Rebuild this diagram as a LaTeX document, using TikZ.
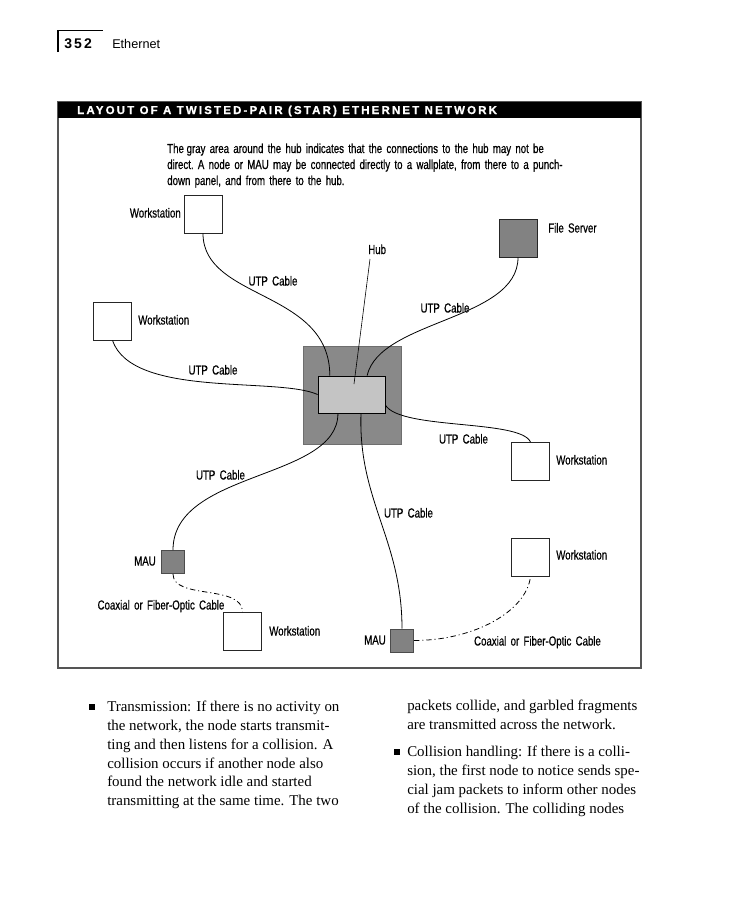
\documentclass[tikz,border=0pt]{standalone}
\usepackage{fontspec}
\setmainfont{Liberation Serif}
\newfontfamily\cond[FakeStretch=0.74,FakeBold=0.6]{Liberation Sans}
\newfontfamily\hdfont{Liberation Sans}
\newfontfamily\titlefont[LetterSpace=19,FakeBold=0.8]{Liberation Sans}
\usetikzlibrary{calc}
\definecolor{areagray}{HTML}{898989}
\definecolor{hubgray}{HTML}{C4C4C4}
\definecolor{srvgray}{HTML}{828282}
\definecolor{framegray}{HTML}{555555}
\newcommand{\gapw}{\ \hspace{1.2pt}}
\begin{document}
\begin{tikzpicture}[x=0.75pt,y=-0.75pt,
  lbl/.style={font=\cond\fontsize{9.8}{11}\selectfont, inner sep=0, anchor=base west},
  lblc/.style={lbl, anchor=base},
  lble/.style={lbl, anchor=base east},
  body/.style={font=\fontsize{11.2}{14}\selectfont, inner sep=0, anchor=base west},
  wsbox/.style={draw=black!85, fill=white, line width=0.65pt, minimum width=28.5pt, minimum height=28.5pt, inner sep=0},
  srvbox/.style={wsbox, fill=srvgray},
  maubox/.style={draw=black!70, fill=srvgray, line width=0.5pt, minimum size=17.5pt, inner sep=0},
  cable/.style={line width=0.6pt},
  coax/.style={line width=0.6pt, dash pattern=on 4pt off 2.2pt on 0.8pt off 2.2pt},
  bulletsq/.style={fill=black, minimum size=4pt, inner sep=0}
]
\useasboundingbox (0,0) rectangle (749,900);
% page header
\draw[line width=1pt] (58,52) -- (58,30.5) -- (103,30.5);
\node[font=\hdfont\bfseries\fontsize{10.5}{12}\selectfont, inner sep=0, anchor=base west] (pgnum) at (64,48) {3\kern1.6pt5\kern1.6pt2};
\node[font=\hdfont\fontsize{9.5}{12}\selectfont, inner sep=0, anchor=base west] (chap) at (112,48) {Ethernet};

% frame and title bar
\draw[framegray, line width=0.8pt] (58,102) rectangle (641,668);
\fill[black] (58,102) rectangle (641,118);
\node[font=\titlefont\bfseries\fontsize{8.6}{10}\selectfont, text=white, inner sep=0, anchor=base west] (title) at (77,114) {LAYOUT OF A TWISTED-PAIR (STAR) ETHERNET NETWORK};

% caption
\node[lbl] (cap1) at (167,153) {The gray\gapw area\gapw around\gapw the\gapw hub\gapw indicates\gapw that\gapw the\gapw connections\gapw to\gapw the\gapw hub\gapw may\gapw not\gapw be};
\node[lbl] (cap2) at (167,169) {direct.\gapw A\gapw node\gapw or\gapw MAU\gapw may\gapw be\gapw connected\gapw directly\gapw to\gapw a\gapw wallplate,\gapw from\gapw there\gapw to\gapw a\gapw punch-};
\node[lbl] (cap3) at (167,185) {down\gapw panel,\gapw and\gapw from\gapw there\gapw to\gapw the\gapw hub.};

% hub area
\node[fill=areagray, draw=areagray!80!black, line width=0.4pt, minimum size=73.5pt, inner sep=0] (area) at (352,395) {};
\node[fill=hubgray, draw=black, line width=0.6pt, minimum width=50.25pt, minimum height=27.75pt, inner sep=0] (hub) at (351.5,394.5) {};

% devices
\node[wsbox] (ws1) at (203,214) {};
\node[wsbox] (ws2) at (112.5,321) {};
\node[srvbox] (fs) at (518,238) {};
\node[wsbox] (ws3) at (530.5,461.5) {};
\node[wsbox] (ws4) at (530.5,557) {};
\node[wsbox] (ws5) at (242.5,631.5) {};
\node[maubox] (mau1) at (173,562) {};
\node[maubox] (mau2) at (402,640.5) {};

% labels
\node[lble] (lws1) at (181,217.5) {Workstation};
\node[lbl] (lws2) at (138,324.5) {Workstation};
\node[lbl] (lfs) at (548,232.5) {File\gapw Server};
\node[lbl] (lhub) at (368,254) {Hub};
\node[lbl] (lws3) at (556,464.5) {Workstation};
\node[lbl] (lws4) at (556,559.5) {Workstation};
\node[lbl] (lws5) at (269,635.5) {Workstation};
\node[lble] (lmau1) at (156,565.5) {MAU};
\node[lble] (lmau2) at (386,644.5) {MAU};
\node[lblc] (lcoax1) at (161,609.5) {Coaxial\gapw or\gapw Fiber-Optic\gapw Cable};
\node[lblc] (lcoax2) at (537.5,645.5) {Coaxial\gapw or\gapw Fiber-Optic\gapw Cable};
\node[lblc] (u1) at (273,285.5) {UTP\gapw Cable};
\node[lblc] (u2) at (445,312.5) {UTP\gapw Cable};
\node[lblc] (u3) at (213,374.5) {UTP\gapw Cable};
\node[lblc] (u4) at (463.5,443.5) {UTP\gapw Cable};
\node[lblc] (u5) at (220.5,479.5) {UTP\gapw Cable};
\node[lblc] (u6) at (408.5,517.5) {UTP\gapw Cable};

% cables
\coordinate (ht1) at ($(hub.north west)!0.18!(hub.north east)$);
\coordinate (ht2) at ($(hub.north west)!0.73!(hub.north east)$);
\coordinate (hb1) at ($(hub.south west)!0.30!(hub.south east)$);
\coordinate (hb2) at ($(hub.south west)!0.64!(hub.south east)$);
\coordinate (hr) at ($(hub.north east)!0.78!(hub.south east)$);
\coordinate (hdot) at ($(hub.center)+(2.5,-10.5)$);
\coordinate (hubtip) at (370,259);
\draw[cable] (ws1.south) .. controls +(0,67) and +(0,-86) .. (ht1);
\draw[cable] (ws2.south) .. controls +(20,58) and +(-40,-18) .. (hub.west);
\draw[cable] (fs.south) .. controls +(0,63) and +(13,-56) .. (ht2);
\draw[cable] (hr) .. controls +(15,25) and +(-10,-23) .. (ws3.north);
\draw[cable] (hb1) .. controls +(0,67) and +(0,-80) .. (mau1.north);
\draw[cable] (hb2) .. controls +(-3,87) and +(0,-89) .. (mau2.north);
\draw[line width=0.45pt] (hubtip) -- (hdot);
\draw[coax] (mau1.south) .. controls +(0,26) and +(0,-28) .. (ws5.north);
\draw[coax] (mau2.east) .. controls +(60,0) and +(-4,35) .. (ws4.south);

% body text
\node[bulletsq] (b1) at (92,707) {};
\node[body] (t1) at (107,711) {Transmission: If there is no activity on};
\node[body] (t2) at (107,730) {the network, the node starts transmit-};
\node[body] (t3) at (107,749) {ting and then listens for a collision. A};
\node[body] (t4) at (107,768) {collision occurs if another node also};
\node[body] (t5) at (107,786.5) {found the network idle and started};
\node[body] (t6) at (107,805.5) {transmitting at the same time. The two};
\node[body] (t7) at (407,710) {packets collide, and garbled fragments};
\node[body] (t8) at (407,729) {are transmitted across the network.};
\node[bulletsq] (b2) at (397,752) {};
\node[body] (t9) at (407,756) {Collision handling: If there is a colli-};
\node[body] (t10) at (407,775) {sion, the first node to notice sends spe-};
\node[body] (t11) at (407,794) {cial jam packets to inform other nodes};
\node[body] (t12) at (407,813) {of the collision. The colliding nodes};
\end{tikzpicture}
\end{document}
